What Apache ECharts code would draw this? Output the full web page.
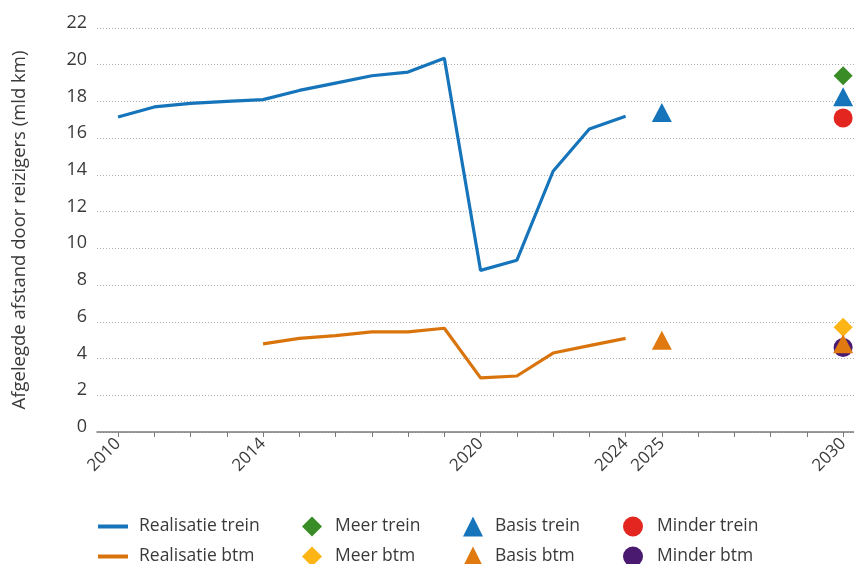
<!DOCTYPE html>
<html>
<head>
<meta charset="utf-8">
<script src="https://cdn.jsdelivr.net/npm/echarts@6/dist/echarts.min.js"></script>
<style>
    html, body { margin: 0; padding: 0; background: #fff; }
    #chart { width: 854px; height: 564px; }
</style>
</head>
<body>
<div id="chart"></div>
<script>
// jaren op de x-as
var tickYears = [2010, 2011, 2012, 2013, 2014, 2015, 2016, 2017, 2018, 2019, 2020,
    2021, 2022, 2023, 2024, 2025, 2026, 2027, 2028, 2029, 2030];
var labelYears = [2010, 2014, 2020, 2024, 2025, 2030];

// realisatie
var treinYears = [2010, 2011, 2012, 2013, 2014, 2015, 2016, 2017, 2018, 2019, 2020, 2021, 2022, 2023, 2024];
var treinValues = [17.15, 17.7, 17.9, 18.0, 18.1, 18.6, 19.0, 19.4, 19.6, 20.35, 8.8, 9.35, 14.2, 16.5, 17.2];
var btmYears = [2014, 2015, 2016, 2017, 2018, 2019, 2020, 2021, 2022, 2023, 2024];
var btmValues = [4.8, 5.1, 5.25, 5.45, 5.45, 5.65, 2.95, 3.05, 4.3, 4.7, 5.1];

// scenario's
var meerTrein = [[2030, 19.4]];
var basisTrein = [[2025, 17.4], [2030, 18.25]];
var minderTrein = [[2030, 17.1]];
var meerBtm = [[2030, 5.7]];
var basisBtm = [[2025, 5.0], [2030, 4.8]];
var minderBtm = [[2030, 4.6]];

var yTicks = [0, 22, 2]; // min, max, interval

function pairs(xs, vs) {
    return xs.map(function (x, i) { return [x, vs[i]]; });
}

var font = 'Open Sans';
var textColor = '#3a3a3a';

function legendCol(left, names, line, gap) {
    return {
        orient: 'vertical', left: left, top: 516, height: 70, padding: 0, itemGap: 9,
        itemWidth: line ? 30 : 20, itemHeight: line ? 4 : 20,
        icon: line ? 'rect' : undefined,
        textStyle: {fontSize: 17.5, color: textColor, fontFamily: font, lineHeight: 21, padding: [0, 0, 0, gap]},
        data: names
    };
}

var myChart = echarts.init(document.getElementById('chart'), null, {renderer: 'canvas'});
myChart.setOption({
    animation: false,
    textStyle: {fontFamily: font},
    grid: {
        left: 97,
        top: 28,
        right: 0,
        bottom: 132
    },
    legend: [
        legendCol(98, ['Realisatie trein', 'Realisatie btm'], true, 6),
        legendCol(302, ['Meer trein', 'Meer btm'], false, 8),
        legendCol(463, ['Basis trein', 'Basis btm'], false, 7),
        legendCol(623, ['Minder trein', 'Minder btm'], false, 9)
    ],
    xAxis: {
        type: 'value',
        min: 2009.42,
        max: 2030.3,
        axisLine: {lineStyle: {color: '#7a7a7a', width: 1.5}},
        axisTick: {
            customValues: tickYears,
            length: 5,
            lineStyle: {color: '#7a7a7a'}
        },
        axisLabel: {
            customValues: labelYears,
            rotate: 45,
            margin: 9,
            fontSize: 17,
            color: textColor,
            formatter: function (v) { return String(v); }
        },
        splitLine: {show: false}
    },
    yAxis: {
        type: 'value',
        min: yTicks[0],
        max: yTicks[1],
        interval: yTicks[2],
        name: 'Afgelegde afstand door reizigers (mld km)',
        nameLocation: 'middle',
        nameGap: 68,
        nameTextStyle: {fontSize: 18.5, color: textColor},
        axisLine: {show: false},
        axisTick: {show: false},
        axisLabel: {fontSize: 18, color: textColor, margin: 10, verticalAlign: 'bottom', lineHeight: 10},
        splitLine: {lineStyle: {color: '#b0b0b0', type: [1, 2], width: 1}}
    },
    series: [
        {
            name: 'Realisatie trein', type: 'line', symbol: 'none',
            data: pairs(treinYears, treinValues),
            lineStyle: {color: '#1674bb', width: 3.2},
            itemStyle: {color: '#1674bb'}
        },
        {
            name: 'Realisatie btm', type: 'line', symbol: 'none',
            data: pairs(btmYears, btmValues),
            lineStyle: {color: '#d9740d', width: 3.2},
            itemStyle: {color: '#d9740d'}
        },
        {
            name: 'Meer trein', type: 'scatter', symbol: 'diamond', symbolSize: [19, 19],
            data: meerTrein, itemStyle: {color: '#3a8c26', opacity: 1}, z: 3
        },
        {
            name: 'Meer btm', type: 'scatter', symbol: 'diamond', symbolSize: [19, 19],
            data: meerBtm, itemStyle: {color: '#fdb515', opacity: 1}, z: 3
        },
        {
            name: 'Basis trein', type: 'scatter', symbol: 'triangle', symbolSize: [20, 19],
            data: basisTrein, itemStyle: {color: '#1674bb', opacity: 1}, z: 5
        },
        {
            name: 'Basis btm', type: 'scatter', symbol: 'triangle', symbolSize: [20, 19],
            data: basisBtm, itemStyle: {color: '#e07a10', opacity: 1}, z: 5
        },
        {
            name: 'Minder trein', type: 'scatter', symbol: 'circle', symbolSize: 19,
            data: minderTrein, itemStyle: {color: '#e3261f', opacity: 1}, z: 4
        },
        {
            name: 'Minder btm', type: 'scatter', symbol: 'circle', symbolSize: 19,
            data: minderBtm, itemStyle: {color: '#4a1a70', opacity: 1}, z: 4
        }
    ]
});
</script>
</body>
</html>
